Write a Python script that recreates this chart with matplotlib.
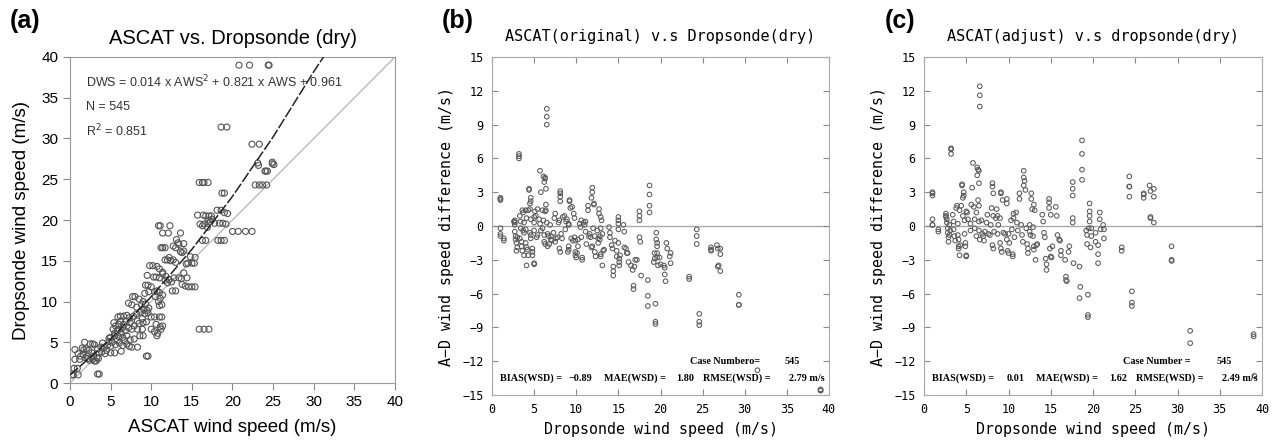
import matplotlib
matplotlib.use("Agg")
import matplotlib.pyplot as plt
import numpy as np

# ---- panel (a): ASCAT wind speed vs dropsonde wind speed ----
a_pts = [
    (20.8, 39.0), (22.1, 39.0), (24.4, 39.0), (24.5, 39.0),
    (18.6, 31.4), (19.3, 31.4), (22.4, 29.3), (23.3, 29.3),
    (23.1, 27.0), (23.2, 26.7), (24.9, 27.1), (25.1, 26.8), (24.9, 26.9),
    (24.0, 26.0), (24.1, 26.0), (24.3, 26.0),
    (22.8, 24.3), (23.3, 24.3), (23.7, 24.3), (24.2, 24.3),
    (15.9, 24.6), (16.3, 24.6), (16.5, 24.6), (17.0, 24.6),
    (18.7, 23.3), (19.0, 23.3),
    (15.7, 20.6), (16.4, 20.6), (16.7, 20.5), (17.1, 20.5), (17.4, 20.5),
    (18.1, 21.2), (18.6, 21.2), (19.0, 20.9), (19.4, 20.8),
    (16.0, 19.5), (16.5, 19.5), (17.0, 19.6), (17.3, 19.8), (17.8, 19.6),
    (18.4, 19.6), (18.8, 19.6), (19.2, 19.5), (16.9, 19.1), (16.3, 19.3),
    (17.5, 20.1), (17.0, 20.0),
    (20.0, 18.6), (20.7, 18.6), (21.6, 18.6), (22.4, 18.6),
    (16.3, 17.5), (16.7, 17.5), (18.2, 17.5), (18.6, 17.5), (19.0, 17.5),
    (10.9, 19.3), (11.1, 19.3), (12.3, 19.3),
    (11.4, 18.4), (12.1, 18.4), (13.6, 18.4),
    (11.2, 16.6), (11.4, 16.6), (11.7, 16.6),
    (13.1, 17.6), (13.3, 17.2), (13.8, 16.0), (13.6, 16.1), (14.0, 16.2),
    (13.0, 16.6), (12.7, 16.8), (13.4, 17.0), (14.0, 17.1),
    (11.7, 15.1), (12.0, 15.1), (12.4, 15.0), (12.7, 15.1), (13.0, 14.8),
    (12.2, 15.4), (14.3, 14.6), (14.5, 14.7), (15.0, 14.7), (15.4, 15.4),
    (15.3, 14.7), (14.8, 15.5),
    (9.8, 14.4), (10.2, 14.4), (10.7, 14.3), (9.5, 13.2), (11.0, 14.0),
    (11.4, 13.6), (10.3, 13.0), (10.6, 13.0), (11.0, 12.9), (11.4, 13.4),
    (11.8, 13.1), (12.2, 12.7), (12.5, 12.4), (12.0, 12.3), (11.7, 12.6),
    (12.8, 12.9), (13.4, 12.9), (13.7, 12.8), (14.0, 13.5), (14.4, 12.9),
    (13.8, 12.1), (14.2, 11.9), (14.6, 11.8), (15.0, 11.8), (15.4, 11.8),
    (12.6, 11.3), (13.0, 11.3),
    (9.3, 12.0), (9.6, 12.0), (10.0, 11.8), (9.2, 11.0), (9.7, 11.2),
    (10.4, 11.2), (10.7, 11.3), (11.0, 11.1), (11.4, 10.8), (11.1, 10.4),
    (10.5, 10.6), (10.9, 10.0), (11.3, 9.6), (11.0, 9.5),
    (9.0, 10.0), (8.5, 10.3), (8.0, 10.6), (7.7, 10.6), (7.2, 9.8),
    (7.6, 9.6), (8.2, 9.3), (8.8, 9.6), (9.3, 9.7), (9.1, 9.0),
    (9.5, 8.9), (9.6, 8.6), (9.2, 8.5), (9.7, 9.2), (8.7, 8.7),
    (8.2, 8.5), (7.8, 8.2), (7.3, 8.0), (7.0, 8.3), (6.6, 8.2),
    (6.2, 8.2), (5.9, 8.1), (6.9, 7.6), (7.4, 7.4), (7.9, 7.0),
    (8.5, 7.3), (9.0, 7.4), (8.3, 6.6), (8.9, 6.6), (7.6, 6.6),
    (6.5, 6.8), (6.0, 7.2), (5.6, 7.0), (5.3, 6.6), (5.8, 6.4),
    (6.3, 6.1), (6.8, 6.4), (7.2, 6.8), (7.0, 5.8), (6.5, 5.6),
    (6.0, 5.7), (5.5, 5.8), (5.0, 5.6), (4.8, 5.1), (5.2, 5.0),
    (4.6, 4.6), (5.0, 4.5), (5.6, 4.7), (6.1, 4.9), (6.5, 4.6),
    (7.0, 4.8), (7.6, 4.4), (7.3, 4.5), (4.2, 4.4), (4.5, 4.0),
    (3.9, 3.8), (4.3, 3.6), (5.0, 3.7), (5.5, 3.7), (6.3, 3.9),
    (5.5, 6.1), (6.0, 6.6), (6.6, 7.2), (4.8, 5.5), (4.0, 4.9),
    (3.8, 4.4), (5.8, 5.2), (6.7, 5.2), (7.4, 5.3), (7.9, 5.4),
    (8.3, 7.6), (8.9, 7.9), (9.4, 7.5), (6.2, 7.6), (5.4, 7.4),
    (10.0, 8.1), (10.4, 8.1), (11.0, 8.1), (11.3, 8.1), (10.6, 7.2),
    (11.1, 6.9), (11.4, 7.0), (11.2, 6.6), (10.0, 6.6), (10.4, 6.3),
    (10.8, 6.1), (10.7, 5.8), (9.0, 5.8), (8.3, 4.4), (8.6, 5.8),
    (15.9, 6.6), (16.5, 6.6), (17.1, 6.6),
    (9.4, 3.3), (9.6, 3.3), (3.4, 1.1), (3.6, 1.1),
    (0.2, 1.0), (0.4, 1.0), (1.0, 1.0), (0.5, 1.8), (0.9, 1.8),
    (0.6, 2.9), (0.6, 4.1), (1.0, 3.6), (1.3, 3.3), (1.2, 2.9),
    (1.6, 3.5), (1.9, 3.1), (2.2, 3.0), (2.4, 2.8), (2.8, 2.9),
    (3.0, 2.7), (3.2, 2.7), (3.3, 3.1), (2.7, 3.7), (2.3, 4.0),
    (2.0, 4.2), (1.7, 4.1), (1.8, 5.0), (2.5, 4.8), (2.8, 4.8),
    (3.0, 4.7), (3.4, 4.2), (3.6, 3.7), (2.1, 3.3), (1.5, 4.3),
    (2.9, 3.3), (3.5, 3.0),
]
a_aws = [p[0] for p in a_pts]
a_dws = [p[1] for p in a_pts]

# fitted curve, points
fit_aws = [0, 5, 10, 15, 20, 25, 30, 31.2]
fit_dws = [0.96, 5.4, 10.6, 16.4, 22.9, 30.2, 38.2, 40.0]

# ---- panel (b): original ASCAT minus dropsonde ----
b_pts = [
    (1.0, 2.5), (1.0, 2.4), (1.0, 2.3), (1.0, -0.2), (1.0, -0.7), (1.0, -0.9),
    (1.4, -1.1), (1.4, -1.3),
    (2.7, 0.5), (2.7, 0.3), (2.7, 0.1), (2.7, -0.5), (2.8, -0.9), (2.8, -1.2),
    (2.9, -1.5), (2.9, -2.2), (2.6, 0.4), (3.0, -1.0), (3.0, -1.9),
    (3.2, 6.4), (3.2, 6.2), (3.2, 6.0),
    (3.3, 0.9), (3.4, 0.4), (3.4, -0.2), (3.3, -1.1), (3.5, -1.4), (3.5, -1.8),
    (3.6, 1.4), (3.7, 1.2), (3.8, 0.3), (3.7, -0.4), (3.8, -0.6), (3.6, -2.2),
    (3.8, -2.6),
    (4.0, 1.4), (4.1, 0.7), (4.0, -1.5), (4.1, -1.9), (4.1, -3.5), (4.3, -2.6),
    (4.2, -2.1), (4.0, -0.3),
    (4.4, 3.3), (4.4, 3.2), (4.5, 2.0), (4.6, 2.5), (4.6, 2.2), (4.5, 1.5),
    (4.3, 1.4), (4.6, 0.6), (4.5, -0.6), (4.6, -0.8), (4.8, -2.0), (4.8, -2.3),
    (4.8, -2.6), (4.6, -1.1),
    (5.0, -3.4), (5.0, -3.3), (5.0, 0.3), (5.0, 0.8), (5.1, 1.3), (5.0, -0.4),
    (5.2, 0.9), (5.4, 1.5), (5.4, -0.8), (5.3, -1.0), (5.6, 0.6), (5.7, 0.2),
    (5.8, -0.4), (5.7, 4.9), (5.8, 3.0),
    (6.0, 1.4), (6.1, 0.5), (6.0, -0.2), (6.2, -0.8), (6.2, -1.4), (6.3, -1.6),
    (6.1, 4.4), (6.3, 4.3), (6.3, 4.2), (6.2, 3.9), (6.4, 3.3), (6.4, 1.9),
    (6.4, 1.4), (6.3, 1.3),
    (6.5, 10.4), (6.5, 9.7), (6.5, 9.0),
    (6.5, 0.3), (6.6, -0.7), (6.7, -0.9), (6.6, -1.8), (6.8, -1.6), (6.9, 0.1),
    (7.0, -0.9), (7.0, -1.2), (7.1, -1.3), (7.3, -0.6), (7.4, 0.7), (7.5, 1.1),
    (7.6, -1.1), (7.5, -1.4), (7.8, -1.0), (7.9, 0.3),
    (8.1, 3.1), (8.1, 2.9), (8.1, 2.6), (8.1, 2.2), (8.0, 0.5), (8.2, -0.7),
    (8.3, -1.1), (8.0, -2.0), (8.1, -2.3), (8.4, 0.8), (8.6, 0.9), (8.8, 0.4),
    (8.7, -0.3), (8.9, 0.6),
    (9.1, 0.2), (9.1, 0.1), (9.2, 2.3), (9.2, 2.2), (9.1, -1.8), (9.1, -2.1),
    (9.0, -2.3), (9.3, 1.6), (9.5, 1.7), (9.4, -1.1), (9.6, -1.3), (9.7, 1.1),
    (9.8, 0.7), (9.8, -1.0), (9.9, -1.3), (9.9, -2.3), (9.9, -2.6), (10.0, -2.8),
    (10.1, -2.4), (10.2, -1.8), (10.2, -1.2), (10.4, 0.2), (10.5, -0.1),
    (10.6, 0.5), (10.6, -1.0), (10.7, -2.8), (10.7, -3.0), (10.9, 0.3),
    (11.0, 0.1), (11.1, -0.5), (11.1, 0.4), (11.2, -1.6), (11.4, 1.8),
    (11.4, 1.4), (11.6, -0.7), (11.5, -0.9), (11.7, -1.0), (11.8, -1.9),
    (11.9, -1.8), (11.9, 3.4), (11.9, 3.0), (11.8, 2.5), (12.1, 2.0),
    (12.1, 1.9), (12.0, -0.2), (12.2, -0.9), (12.2, -2.3), (12.3, -2.7),
    (12.5, -0.4), (12.6, -1.1), (12.6, -1.5), (12.7, 1.5), (12.7, 1.1),
    (12.9, 0.8), (12.9, -0.2), (12.8, -0.9), (12.8, -1.2), (12.9, -2.7),
    (12.9, -2.5), (13.0, 0.5), (13.1, -0.7), (13.1, -3.5), (13.2, -2.2),
    (13.3, -2.1),
    (13.9, -0.1), (14.0, -0.6), (14.0, -1.0), (14.2, -1.7), (14.3, -2.0),
    (14.4, -3.6), (14.4, -4.0), (14.4, -4.4), (14.6, -1.3), (14.8, -2.2),
    (14.8, -2.7), (15.0, 0.8), (15.0, 0.5), (15.0, 0.2), (15.0, -0.3),
    (15.0, -1.5), (15.1, -2.9), (15.1, -3.2), (15.1, -3.5), (15.2, -2.6),
    (15.6, 0.1), (15.7, -0.5), (15.7, -1.9), (15.9, -2.0), (16.0, -2.4),
    (16.1, -2.4), (16.2, -3.2), (16.5, -3.5), (16.7, -3.9), (16.9, -3.6),
    (16.8, -5.3), (16.8, -5.6), (17.0, -3.0), (17.2, -3.0),
    (17.5, 1.3), (17.5, 0.9), (17.5, 0.5), (17.5, -1.0), (17.6, -1.4),
    (17.7, -4.4), (18.5, -4.8), (18.5, -6.2), (18.5, -7.1),
    (18.7, 3.6), (18.7, 2.8), (18.7, 1.8), (18.7, 1.2),
    (19.2, -3.2), (19.3, -2.4), (19.3, -2.9), (19.4, -6.9), (19.4, -8.5),
    (19.4, -8.7), (19.5, -0.6), (19.5, -1.2), (19.6, -1.5), (19.6, -1.8),
    (19.6, -2.4), (19.6, -2.8), (19.7, -3.5), (19.9, -2.8), (20.0, -3.4),
    (20.4, -3.5), (20.5, -3.7), (20.5, -4.3), (20.6, -4.9), (20.7, -1.5),
    (20.8, -2.0), (21.1, -2.7), (21.2, -3.3), (21.2, -2.4),
    (23.4, -4.5), (23.4, -4.7), (24.3, -0.3), (24.3, -0.9), (24.3, -1.6),
    (24.6, -7.8), (24.6, -8.5), (24.6, -8.8),
    (26.0, -1.9), (26.0, -2.1), (26.0, -2.2), (26.7, -1.7), (26.8, -2.0),
    (26.8, -3.6), (26.9, -3.5), (27.1, -2.0), (27.1, -2.5), (27.1, -4.0),
    (29.3, -6.1), (29.3, -7.0), (29.3, -7.0),
    (31.5, -12.8), (39.0, -14.6), (39.0, -14.6), (39.0, -14.5),
]
b_dws = [p[0] for p in b_pts]
b_diff = [p[1] for p in b_pts]

# ---- panel (c): adjusted ASCAT minus dropsonde ----
c_pts = [
    (1.0, 3.0), (1.0, 2.9), (1.0, 2.7), (1.0, 0.6), (1.0, 0.1), (1.0, 0.1),
    (1.7, -0.3), (1.7, -0.5),
    (2.6, 1.1), (2.6, 0.9), (2.7, 0.6), (2.7, 0.3), (2.8, -0.2), (2.8, -0.6),
    (2.9, -1.0), (2.9, -1.4), (3.0, -0.8), (2.6, 0.8), (3.0, 0.1), (3.1, -0.4),
    (3.2, 6.9), (3.2, 6.8), (3.2, 6.4),
    (3.4, 1.0), (3.5, 0.4), (3.5, -0.3), (3.6, -0.9), (3.7, -1.3), (3.8, 1.6),
    (3.9, 1.8), (4.0, 0.2), (4.0, -0.8), (4.1, -1.2), (4.1, -1.8), (4.1, -2.0),
    (4.2, -2.6), (4.3, -1.7), (4.2, 1.4), (4.4, 1.8), (4.5, 3.7), (4.5, 3.6),
    (4.6, 2.5), (4.7, 3.0), (4.7, 2.7), (4.6, 0.9), (4.8, 0.5), (4.8, -0.7),
    (4.9, -1.5), (4.9, -1.8), (5.0, -2.7), (5.0, -2.6), (5.0, 1.3), (5.1, 1.2),
    (5.2, 0.6),
    (5.5, 0.2), (5.5, -0.4), (5.6, 1.9), (5.7, 3.4), (5.8, 5.6), (5.9, 1.7),
    (6.0, 0.6), (6.0, -0.2), (6.2, -0.9), (6.2, 1.2), (6.3, 5.2), (6.4, 5.0),
    (6.3, 4.5), (6.5, 4.9), (6.5, 3.8), (6.4, 2.3), (6.5, 1.8), (6.5, 0.4),
    (6.5, -0.4), (6.6, -1.2), (6.6, 12.4), (6.6, 11.6), (6.6, 10.6),
    (6.8, 0.5), (6.9, -0.7), (7.0, -0.9), (7.1, -1.3), (7.2, -0.5), (7.4, 0.3),
    (7.5, 1.0), (7.6, -0.7), (7.8, -0.8), (7.9, 0.1), (8.0, 1.6), (8.1, 3.8),
    (8.1, 3.5), (8.2, 2.9), (8.2, 0.9), (8.1, -1.7), (8.2, -2.0), (8.3, -0.5),
    (8.5, 0.7), (8.6, 1.5), (8.7, 0.9), (8.7, -0.7), (8.8, 0.1),
    (9.0, 0.7), (9.1, 3.0), (9.1, 2.9), (9.0, -1.5), (9.1, -2.0), (9.2, -2.3),
    (9.3, 2.3), (9.4, -0.6), (9.6, -0.7), (9.8, 2.4), (9.8, 2.0), (9.8, -1.2),
    (9.9, -2.2), (10.0, -2.4), (10.0, -0.7), (10.1, -1.5), (10.3, 0.5),
    (10.4, -0.3), (10.5, -2.5), (10.5, -2.7), (10.6, 1.1), (10.6, 0.7),
    (10.7, -1.0), (10.9, 1.2), (11.0, 0.3), (11.1, -0.4), (11.3, 2.9),
    (11.3, 2.4), (11.5, 0.1), (11.6, -0.8), (11.7, -1.4), (11.8, 4.9),
    (11.8, 4.3), (11.9, 4.0), (11.8, 3.6), (12.0, 3.2), (12.1, -0.2),
    (12.2, -1.6), (12.3, -2.0), (12.3, -2.4), (12.5, 0.1), (12.5, -0.5),
    (12.6, -0.8), (12.7, 2.9), (12.7, 2.4), (12.8, 1.5), (12.9, -0.1),
    (12.9, -0.9), (13.0, -1.8), (13.0, -2.1), (13.0, 1.9), (13.1, 1.4),
    (13.3, -1.7), (13.2, -3.0), (13.4, -1.6),
    (14.0, 1.0), (14.1, 0.4), (14.2, -0.6), (14.3, -1.0), (14.4, -2.9),
    (14.5, -3.4), (14.5, -3.9), (14.8, 2.4), (14.8, 2.1), (14.8, 1.6),
    (14.9, -2.0), (15.0, -2.7), (15.1, -2.8), (15.2, -1.8), (15.0, 1.0),
    (15.6, 1.7), (15.7, 0.9), (15.8, -0.8), (16.0, -1.2), (16.1, -1.3),
    (16.2, -2.2), (16.2, -2.6), (16.7, -3.0), (16.8, -4.5), (16.8, -4.8),
    (16.9, -4.9), (17.1, -2.3), (17.2, -1.8),
    (17.6, 3.9), (17.6, 3.3), (17.6, 2.7), (17.6, 0.7), (17.6, 0.3),
    (17.7, -3.3), (18.4, -3.6), (18.5, -5.4), (18.4, -6.4),
    (18.7, 7.6), (18.7, 6.4), (18.7, 5.0), (18.7, 4.1),
    (19.2, -0.4), (19.3, -0.8), (19.3, -1.6), (19.4, -6.1), (19.4, -7.9),
    (19.4, -8.1), (19.5, -0.2), (19.6, 2.0), (19.6, 1.3), (19.6, 0.9),
    (19.6, 0.4), (19.7, -1.9), (19.8, -0.9), (19.8, -0.2), (20.3, -0.6),
    (20.3, -1.4), (20.6, -1.7), (20.6, -2.5), (20.6, -3.3), (20.8, 1.2),
    (20.8, 0.6), (20.9, -0.3), (21.2, 0.1), (21.3, -0.3), (21.3, -1.1),
    (23.4, -1.9), (23.4, -2.2), (24.3, 4.4), (24.3, 3.5), (24.3, 3.5),
    (24.3, 2.6), (24.6, -5.8), (24.6, -6.8), (24.6, -7.1),
    (26.0, 2.9), (26.0, 2.8), (26.0, 2.5), (26.7, 3.6), (26.8, 3.1),
    (26.8, 0.8), (26.8, 0.7), (27.2, 3.3), (27.2, 2.6), (27.2, 0.3),
    (29.3, -1.8), (29.3, -3.0), (29.3, -3.1),
    (31.5, -9.3), (31.5, -10.4), (39.0, -9.6), (39.0, -9.8), (39.1, -13.3),
]
c_dws = [p[0] for p in c_pts]
c_diff = [p[1] for p in c_pts]

# statistics printed at the bottom of (b) and (c)
stat_names = ["BIAS(WSD) =", "MAE(WSD) =", "RMSE(WSD) ="]
b_stats = ["\u22120.89", "1.80", "2.79 m/s"]
c_stats = ["0.01", "1.62", "2.49 m/s"]
case_n = 545

W, H = 1274, 440
fig = plt.figure(figsize=(W / 100, H / 100), dpi=100)

def frac(x0, y0, x1, y1):
    # pixel box (top-left origin) -> figure fraction rect
    return [x0 / W, 1 - y1 / H, (x1 - x0) / W, (y1 - y0) / H]

sans = "Liberation Sans"
mono = "DejaVu Sans Mono"
stat_font = "Liberation Serif"

# ---------------- (a) ----------------
ax1 = fig.add_axes(frac(70, 57, 395, 383))
ax1.plot([0, 40], [0, 40], color="#bbbbbb", lw=1.0, zorder=1)
ax1.plot(fit_aws, fit_dws, color="#222222", lw=1.1, ls=(0, (7, 1.5)), zorder=3)
ax1.scatter(a_aws, a_dws, s=19, facecolors="none", edgecolors="#555555",
            linewidths=0.8, zorder=2)
ax1.set_xlim(0, 40)
ax1.set_ylim(0, 40)
ax1.set_xticks(range(0, 41, 5))
ax1.set_yticks(range(0, 41, 5))
ax1.tick_params(direction="out", length=5, color="#888888", labelsize=11,
                top=False, right=False)
for lab in ax1.get_xticklabels() + ax1.get_yticklabels():
    lab.set_family(sans)
for sp in ax1.spines.values():
    sp.set_color("#999999")
ax1.set_xlabel("ASCAT wind speed (m/s)", fontsize=13.5, family=sans, labelpad=7)
ax1.set_ylabel("Dropsonde wind speed (m/s)", fontsize=13.5, family=sans, labelpad=8)
ax1.text(2.0, 36.9, "DWS = 0.014 x AWS$^2$ + 0.821 x AWS + 0.961", fontsize=9,
         family=sans, color="#333333", va="center")
ax1.text(2.0, 33.9, "N = 545", fontsize=9, family=sans, color="#333333",
         va="center")
ax1.text(2.0, 30.9, "R$^2$ = 0.851", fontsize=9, family=sans, color="#333333",
         va="center")
fig.text(233 / W, 1 - 38 / H, "ASCAT vs. Dropsonde (dry)", fontsize=14.5,
         family=sans, ha="center", va="center")
fig.text(10 / W, 1 - 21 / H, "(a)", fontsize=18, weight="bold", family=sans,
         va="center")

# ---------------- (b) and (c) ----------------
name_x = [1.0, 13.3, 25.1]     # left edge of each statistic name
value_x = [11.9, 24.0, 39.5]   # right edge of each value

def diff_panel(box, xs, ys, title, case_label, stats, title_x, letter, letter_x):
    ax = fig.add_axes(frac(*box))
    ax.axhline(0, color="#aaaaaa", lw=1.0, zorder=1)
    ax.scatter(xs, ys, s=11, facecolors="none", edgecolors="#5a5a5a",
               linewidths=0.75, zorder=2)
    ax.set_xlim(0, 40)
    ax.set_ylim(-15, 15)
    ax.set_xticks(range(0, 41, 5))
    ax.set_yticks(range(-15, 16, 3))
    ax.tick_params(direction="in", length=4, color="#888888", labelsize=8.5,
                   top=True, right=True, pad=6)
    for sp in ax.spines.values():
        sp.set_color("#aaaaaa")
    ax.set_xticklabels([str(v) for v in range(0, 41, 5)], family=mono)
    ax.set_yticklabels([str(v).replace("-", "\u2212") for v in range(-15, 16, 3)],
                       family=mono)
    ax.set_xlabel("Dropsonde wind speed (m/s)", fontsize=10.8, family=mono)
    ax.xaxis.set_label_coords(0.5, -0.08)
    ax.set_ylabel("A\u2212D wind speed difference (m/s)", fontsize=10.8,
                  family=mono, labelpad=6)
    ax.text(23.5, -12.0, case_label, fontsize=7.3, family=stat_font,
            weight="bold", ha="left", va="center")
    ax.text(36.5, -12.0, str(case_n), fontsize=7.3, family=stat_font,
            weight="bold", ha="right", va="center")
    for nx, vx, name, val in zip(name_x, value_x, stat_names, stats):
        ax.text(nx, -13.55, name, fontsize=7.3, family=stat_font,
                weight="bold", ha="left", va="center")
        ax.text(vx, -13.55, val, fontsize=7.3, family=stat_font,
                weight="bold", ha="right", va="center")
    fig.text(title_x / W, 1 - 37 / H, title, fontsize=11, family=mono,
             ha="center", va="center")
    fig.text(letter_x / W, 1 - 21 / H, letter, fontsize=18, weight="bold",
             family=sans, va="center")
    return ax

diff_panel((492, 57, 829, 395), b_dws, b_diff,
           "ASCAT(original) v.s Dropsonde(dry)", "Case Numbero=",
           b_stats, 660, "(b)", 442)
diff_panel((924, 57, 1262, 395), c_dws, c_diff,
           "ASCAT(adjust) v.s dropsonde(dry)", "Case Number =",
           c_stats, 1093, "(c)", 885)

fig.savefig("out.png", dpi=100)
